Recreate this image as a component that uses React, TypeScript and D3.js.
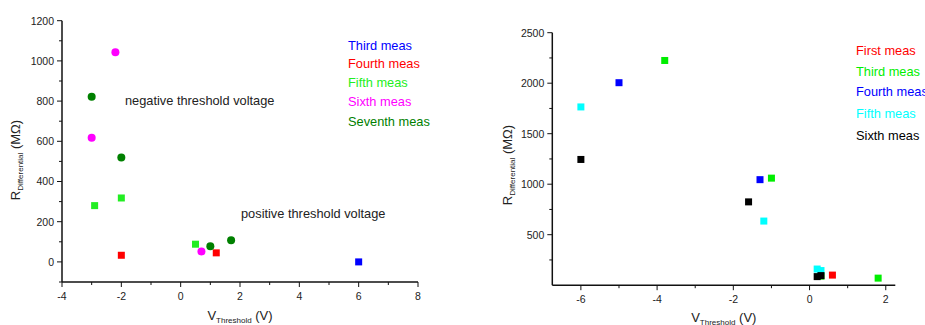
import React from 'react';
import * as d3 from 'd3';

// left chart series: [V_threshold, R_differential]
const leftThird = [[6, 0]];
const leftFourth = [[-2, 33], [1.2, 45]];
const leftFifth = [[-2.9, 280], [-2, 318], [0.5, 88]];
const leftSixth = [[-2.2, 1043], [-3, 618], [0.7, 52]];
const leftSeventh = [[-3, 822], [-2, 520], [1, 78], [1.7, 108]];

// right chart series
const rightFirst = [[0.6, 100]];
const rightThird = [[-3.8, 2225], [-1, 1060], [1.8, 70], [0.3, 90]];
const rightFourth = [[-5, 2005], [-1.3, 1045]];
const rightFifth = [[-6, 1765], [-1.2, 635], [0.2, 160], [0.3, 145]];
const rightSixth = [[-6, 1245], [-1.6, 825], [0.2, 85], [0.3, 95]];

const leftXTicks = [-4, -2, 0, 2, 4, 6, 8];
const leftXMinor = [-3, -1, 1, 3, 5, 7];
const leftYTicks = [0, 200, 400, 600, 800, 1000, 1200];
const leftYMinor = [-100, 100, 300, 500, 700, 900, 1100];
const rightXTicks = [-6, -4, -2, 0, 2];
const rightXMinor = [-5, -3, -1, 1];
const rightYTicks = [500, 1000, 1500, 2000, 2500];
const rightYMinor = [250, 750, 1250, 1750, 2250];

const FONT = "Arial, 'Liberation Sans', sans-serif";

type Series = { name: string; color: string; shape: 'square' | 'circle'; data: number[][] };

const leftSeries: Series[] = [
  { name: 'Third meas', color: '#0000ff', shape: 'square', data: leftThird },
  { name: 'Fourth meas', color: '#ff0000', shape: 'square', data: leftFourth },
  { name: 'Fifth meas', color: '#22ee22', shape: 'square', data: leftFifth },
  { name: 'Sixth meas', color: '#ff00ff', shape: 'circle', data: leftSixth },
  { name: 'Seventh meas', color: '#008000', shape: 'circle', data: leftSeventh },
];

const rightSeries: Series[] = [
  { name: 'First meas', color: '#ff0000', shape: 'square', data: rightFirst },
  { name: 'Third meas', color: '#00ee00', shape: 'square', data: rightThird },
  { name: 'Fourth meas', color: '#0000ff', shape: 'square', data: rightFourth },
  { name: 'Fifth meas', color: '#00ffff', shape: 'square', data: rightFifth },
  { name: 'Sixth meas', color: '#000000', shape: 'square', data: rightSixth },
];

function Panel(props: {
  x: d3.ScaleLinear<number, number>;
  y: d3.ScaleLinear<number, number>;
  xTicks: number[]; xMinor: number[]; yTicks: number[]; yMinor: number[];
  series: Series[];
  legendX: number; legendY: number[];
  ylabelX: number; ylabelY: number; xlabelY: number;
}) {
  const { x, y } = props;
  const [x0, x1] = x.range();
  const [y0, y1] = y.range();
  const tc = '#222';
  return (
    <g fontFamily={FONT}>
      {/* points */}
      {props.series.map(s =>
        s.data.map((d, i) =>
          s.shape === 'square' ? (
            <rect key={s.name + i} x={x(d[0]) - 3.5} y={y(d[1]) - 3.5} width={7} height={7} fill={s.color} />
          ) : (
            <circle key={s.name + i} cx={x(d[0])} cy={y(d[1])} r={4} fill={s.color} />
          )
        )
      )}
      {/* axes */}
      <line x1={x0} x2={x1} y1={y0} y2={y0} stroke="#111" strokeWidth={1.5} />
      <line x1={x0} x2={x0} y1={y0} y2={y1} stroke="#111" strokeWidth={1.5} />
      {props.xTicks.map(t => (
        <g key={'xt' + t}>
          <line x1={x(t)} x2={x(t)} y1={y0} y2={y0 + 5} stroke="#111" strokeWidth={1} />
          <text x={x(t)} y={y0 + 18} textAnchor="middle" fontSize={10.5} fill={tc}>{t}</text>
        </g>
      ))}
      {props.xMinor.map(t => (
        <line key={'xm' + t} x1={x(t)} x2={x(t)} y1={y0} y2={y0 + 3} stroke="#111" strokeWidth={1} />
      ))}
      {props.yTicks.map(t => (
        <g key={'yt' + t}>
          <line x1={x0 - 5} x2={x0} y1={y(t)} y2={y(t)} stroke="#111" strokeWidth={1} />
          <text x={x0 - 8} y={y(t) + 3.8} textAnchor="end" fontSize={10.5} fill={tc}>{t}</text>
        </g>
      ))}
      {props.yMinor.map(t => (
        <line key={'ym' + t} x1={x0 - 3} x2={x0} y1={y(t)} y2={y(t)} stroke="#111" strokeWidth={1} />
      ))}
      {/* axis titles */}
      <text x={(x0 + x1) / 2} y={props.xlabelY} textAnchor="middle" fontSize={13} fill={tc}>
        V<tspan fontSize={8} dy={3}>Threshold</tspan><tspan dy={-3}> (V)</tspan>
      </text>
      <text transform={`translate(${props.ylabelX},${props.ylabelY}) rotate(-90)`} textAnchor="middle" fontSize={13} fill={tc}>
        R<tspan fontSize={8} dy={3}>Differential</tspan><tspan dy={-3}> (MΩ)</tspan>
      </text>
      {/* legend */}
      {props.series.map((s, i) => (
        <text key={'lg' + s.name} x={props.legendX} y={props.legendY[i] + 4.5} fontSize={12.8} fill={s.color}>{s.name}</text>
      ))}
    </g>
  );
}

export default function App() {
  const lx = d3.scaleLinear().domain([-4, 8]).range([62, 418]);
  const ly = d3.scaleLinear().domain([-100, 1200]).range([282, 20.7]);
  const rx = d3.scaleLinear().domain([-6.75, 2.25]).range([552.3, 895.3]);
  const ry = d3.scaleLinear().domain([0, 2500]).range([285.2, 32.7]);
  return (
    <svg width={925} height={325} style={{ position: 'absolute', left: 0, top: 0, background: '#fff' }}>
      <Panel x={lx} y={ly} xTicks={leftXTicks} xMinor={leftXMinor} yTicks={leftYTicks} yMinor={leftYMinor}
        series={leftSeries} legendX={348} legendY={[45.7, 63, 82, 101, 121]}
        ylabelX={19.5} ylabelY={160} xlabelY={320} />
      <text x={125} y={104.5} fontSize={12.8} fill="#222" fontFamily={FONT}>negative threshold voltage</text>
      <text x={241} y={217.5} fontSize={12.8} fill="#222" fontFamily={FONT}>positive threshold voltage</text>
      <Panel x={rx} y={ry} xTicks={rightXTicks} xMinor={rightXMinor} yTicks={rightYTicks} yMinor={rightYMinor}
        series={rightSeries} legendX={856} legendY={[50, 71.7, 91.7, 113.7, 135]}
        ylabelX={512} ylabelY={165} xlabelY={322} />
    </svg>
  );
}
